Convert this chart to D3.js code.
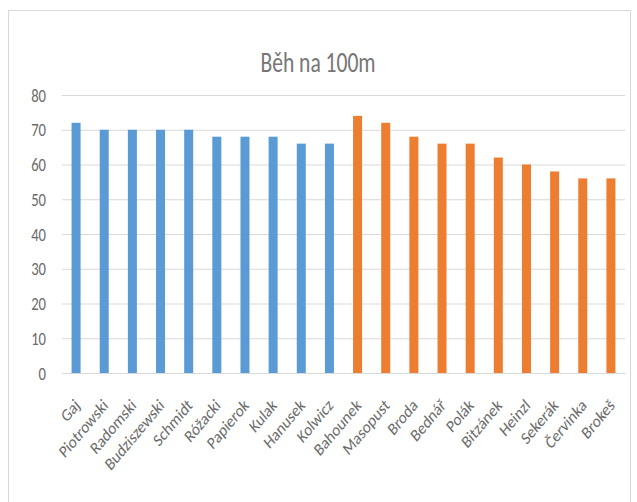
<!DOCTYPE html>
<html>
<head>
<meta charset="utf-8">
<script src="https://cdn.jsdelivr.net/npm/d3@7"></script>
<style>
  body { margin: 0; background: #fff; }
  #chart { width: 637px; height: 502px; }
</style>
</head>
<body>
<div id="chart"></div>
<script>
const names = ["Gaj", "Piotrowski", "Radomski", "Budziszewski", "Schmidt", "Róžacki", "Papierok", "Kulak", "Hanusek", "Kolwicz",
  "Bahounek", "Masopust", "Broda", "Bednář", "Polák", "Bitzánek", "Heinzl", "Sekerák", "Červinka", "Brokeš"];
const values = [72, 70, 70, 70, 70, 68, 68, 68, 66, 66, 74, 72, 68, 66, 66, 62, 60, 58, 56, 56];
const groups = ["PL", "PL", "PL", "PL", "PL", "PL", "PL", "PL", "PL", "PL",
  "CZ", "CZ", "CZ", "CZ", "CZ", "CZ", "CZ", "CZ", "CZ", "CZ"];
const yTicks = [0, 10, 20, 30, 40, 50, 60, 70, 80];
const title = "Běh na 100m";

const data = names.map((n, i) => ({ name: n, value: values[i], group: groups[i] }));

const W = 637, H = 502;
const margin = { top: 95, right: 12, bottom: 129, left: 62 };
const width = W - margin.left - margin.right;
const height = H - margin.top - margin.bottom;
const font = "Carlito, Lato, 'Noto Sans', sans-serif";
// the picture is squeezed sideways, so text gets narrowed
const squeeze = 0.77;

const svg = d3.select("#chart").append("svg")
  .attr("width", W)
  .attr("height", H);

// chart frame
svg.append("rect")
  .attr("x", 8.5).attr("y", 10.5)
  .attr("width", 622).attr("height", 500)
  .attr("fill", "#fff")
  .attr("stroke", "#d9d9d9");

svg.append("text")
  .attr("transform", `translate(318,72) scale(${squeeze},1)`)
  .attr("text-anchor", "middle")
  .attr("fill", "#767676")
  .attr("font-family", font)
  .attr("font-weight", 300)
  .attr("font-size", "28px")
  .text(title);

const g = svg.append("g")
  .attr("transform", `translate(${margin.left},${margin.top})`);

const x = d3.scaleBand()
  .domain(names)
  .range([0, width])
  .paddingInner(0.68)
  .paddingOuter(0.34);

const y = d3.scaleLinear()
  .domain([0, 80])
  .range([height, 0]);

const color = d3.scaleOrdinal()
  .domain(["PL", "CZ"])
  .range(["#5b9bd5", "#ed7d31"]);

// gridlines
g.append("g")
  .call(d3.axisLeft(y).tickValues(yTicks).tickSize(-width).tickFormat(""))
  .call((a) => a.select(".domain").remove())
  .selectAll("line")
  .attr("stroke", "#d9d9d9");

// y labels
g.append("g")
  .call(d3.axisLeft(y).tickValues(yTicks).tickSize(0))
  .call((a) => a.select(".domain").remove())
  .selectAll("text")
  .attr("x", 0)
  .attr("transform", `translate(-16,0) scale(${squeeze},1)`)
  .attr("fill", "#6a6a6a")
  .attr("font-family", font)
  .attr("font-size", "19px");

// Bars
g.selectAll(".bar")
  .data(data)
  .join("rect")
  .attr("class", "bar")
  .attr("x", (d) => x(d.name))
  .attr("y", (d) => y(d.value))
  .attr("width", x.bandwidth())
  .attr("height", (d) => height - y(d.value))
  .attr("fill", (d) => color(d.group));

// X axis
g.append("g")
  .attr("transform", `translate(0,${height})`)
  .call(d3.axisBottom(x).tickSize(0))
  .call((a) => a.select(".domain").attr("stroke", "#d9d9d9"))
  .selectAll("text")
  .attr("fill", "#6a6a6a")
  .attr("font-family", font)
  .attr("font-size", "17.5px")
  .attr("text-anchor", "end")
  .attr("transform", "translate(1,29) scale(0.84,1) rotate(-45)")
  .attr("dy", "0.35em")
  .attr("y", 0)
  .attr("x", 0);
</script>
</body>
</html>
